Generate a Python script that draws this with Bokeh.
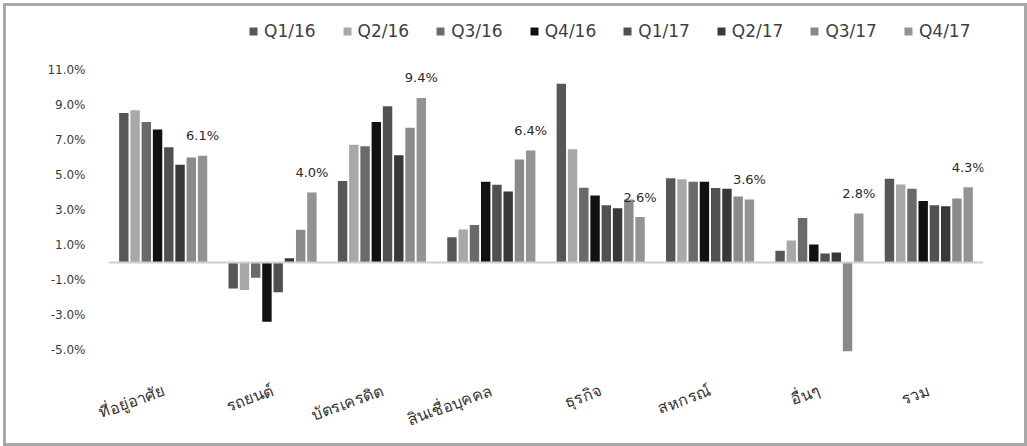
from bokeh.plotting import figure
from bokeh.layouts import column
from bokeh.models import (ColumnDataSource, FactorRange, Range1d, FixedTicker,
                          PrintfTickFormatter, Span, Legend, LegendItem)
from bokeh.transform import dodge
from bokeh.core.properties import value
from bokeh.embed import file_html
from bokeh.resources import INLINE

# Loan categories (x axis)
categories = ["ที่อยู่อาศัย", "รถยนต์", "บัตรเครดิต", "สินเชื่อบุคคล",
              "ธุรกิจ", "สหกรณ์", "อื่นๆ", "รวม"]

# Quarters (one bar per quarter inside each category)
quarters = ["Q1/16", "Q2/16", "Q3/16", "Q4/16", "Q1/17", "Q2/17", "Q3/17", "Q4/17"]

# Growth rates (%) per quarter, in category order
q1_16 = [8.54, -1.48, 4.66, 1.44, 10.21, 4.82, 0.68, 4.78]
q2_16 = [8.70, -1.57, 6.73, 1.89, 6.47, 4.76, 1.26, 4.46]
q3_16 = [8.03, -0.87, 6.64, 2.15, 4.27, 4.61, 2.54, 4.22]
q4_16 = [7.59, -3.38, 8.03, 4.61, 3.83, 4.61, 1.03, 3.51]
q1_17 = [6.58, -1.69, 8.93, 4.44, 3.27, 4.26, 0.51, 3.27]
q2_17 = [5.58, 0.25, 6.13, 4.05, 3.10, 4.22, 0.57, 3.21]
q3_17 = [6.00, 1.87, 7.70, 5.89, 3.60, 3.77, -5.07, 3.66]
q4_17 = [6.1, 4.0, 9.4, 6.4, 2.6, 3.6, 2.8, 4.3]

series = [q1_16, q2_16, q3_16, q4_16, q1_17, q2_17, q3_17, q4_17]
colors = ["#575757", "#a8a8a8", "#6a6a6a", "#111111",
          "#505050", "#383838", "#8a8a8a", "#939393"]

# y axis tick positions (%)
y_ticks = [-5, -3, -1, 1, 3, 5, 7, 9, 11]

PW, PH = 1018, 437
p = figure(width=PW, height=PH, output_backend="svg", toolbar_location=None,
           x_range=FactorRange(*categories, range_padding=0),
           y_range=Range1d(-6.45, 14.22),
           min_border_left=102, min_border_right=41,
           min_border_top=7, min_border_bottom=60)

p.background_fill_color = "white"
p.border_fill_color = "white"
p.outline_line_color = None
p.xgrid.visible = False
p.ygrid.visible = False

yax = p.yaxis[0]
yax.ticker = FixedTicker(ticks=y_ticks)
yax.formatter = PrintfTickFormatter(format="%.1f%%")
yax.axis_line_color = None
yax.major_tick_line_color = None
yax.minor_tick_line_color = None
yax.major_label_standoff = 17
yax.major_label_text_font = "DejaVu Sans"
yax.major_label_text_font_size = "12px"
yax.major_label_text_color = "#3a3a3a"

# rotated category names along the bottom
xax = p.xaxis[0]
xax.axis_line_color = None
xax.major_tick_line_color = None
xax.minor_tick_line_color = None
xax.major_label_orientation = 0.35
xax.major_label_standoff = 8
xax.major_label_text_font = "Noto Sans"
xax.major_label_text_font_size = "16px"
xax.major_label_text_color = "#333333"

# zero baseline
p.add_layout(Span(location=0, dimension="width", line_color="#cfcfcf", line_width=2))

slot = 0.1028
bar_w = 0.086
items = []
for i, (q, vals, c) in enumerate(zip(quarters, series, colors)):
    src = ColumnDataSource(dict(cat=categories, val=vals))
    r = p.vbar(x=dodge("cat", (i - 3.5) * slot, range=p.x_range), top="val", bottom=0,
               width=bar_w, source=src, fill_color=c, line_color=None)
    items.append(LegendItem(label=q, renderers=[r]))

# value labels above the latest quarter
lab_src = ColumnDataSource(dict(cat=categories, val=q4_17,
                                txt=[f"{v:.1f}%" for v in q4_17]))
p.text(x=dodge("cat", 3.5 * slot, range=p.x_range), y="val", text="txt", source=lab_src,
       y_offset=-20, text_align="center", text_baseline="middle",
       text_font=value("DejaVu Sans"), text_font_size="13px", text_color="#2a2a2a")

legend = Legend(items=items, orientation="horizontal", location=(140, 334),
                glyph_width=10, glyph_height=10, label_standoff=6, spacing=26,
                padding=0, margin=0, border_line_color=None,
                background_fill_alpha=0,
                label_text_font="DejaVu Sans", label_text_font_size="17px",
                label_text_color="#404040")
p.add_layout(legend, "center")

# grey frame around the chart, inset slightly from the page edge
page = column(p, margin=0,
              styles={"border": "3px solid #a8a8a8", "background": "white",
                      "transform": "translate(3px, 3px)"})

open("out.html", "w").write(file_html(page, INLINE))
